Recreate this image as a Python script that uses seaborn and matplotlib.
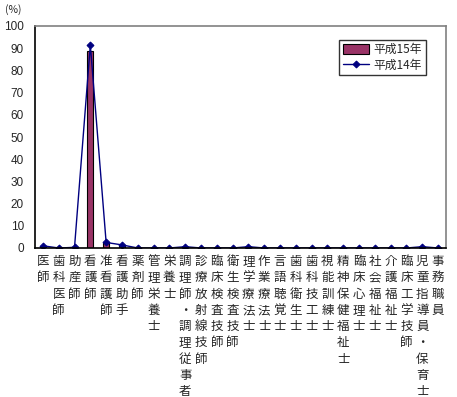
import matplotlib
matplotlib.use("Agg")
import matplotlib.pyplot as plt
import seaborn as sns
import pandas as pd
import numpy as np

categories = ["医師", "歯科医師", "助産師", "看護師", "准看護師", "看護助手", "薬剤師",
              "管理栄養士", "栄養士", "調理師・調理従事者", "診療放射線技師", "臨床検査技師",
              "衛生検査技師", "理学療法士", "作業療法士", "言語聴覚士", "歯科衛生士",
              "歯科技工士", "視能訓練士", "精神保健福祉士", "臨床心理士", "社会福祉士",
              "介護福祉士", "臨床工学技師", "児童指導員・保育士", "事務職員"]
h15 = [0.8, 0.3, 0.3, 88.7, 2.8, 1.2, 0.2, 0.0, 0.0, 0.4, 0.1, 0.0, 0.0, 0.4, 0.0,
       0.0, 0.0, 0.0, 0.0, 0.0, 0.0, 0.0, 0.0, 0.0, 0.4, 0.0]
h14 = [1.0, 0.0, 0.3, 91.5, 2.5, 1.4, 0.0, 0.0, 0.0, 0.6, 0.0, 0.0, 0.0, 0.6, 0.0,
       0.0, 0.0, 0.0, 0.0, 0.0, 0.0, 0.0, 0.0, 0.0, 0.6, 0.0]
yticks = list(range(0, 101, 10))

sns.set_style("white")
plt.rcParams['font.family'] = ['Noto Sans CJK JP', 'DejaVu Sans']

df = pd.DataFrame({"cat": categories, "h15": h15, "h14": h14, "pos": np.arange(len(categories))})

fig = plt.figure(figsize=(4.57, 3.97), dpi=100)
W, H = 457, 397
left, right, top, bottom = 35, 446, 26, 248
ax = fig.add_axes([left / W, 1 - bottom / H, (right - left) / W, (bottom - top) / H])

sns.barplot(data=df, x="cat", y="h15", order=categories, color="#993366",
            edgecolor="black", linewidth=0.8, width=0.4, saturation=1, ax=ax,
            label="平成15年")
sns.lineplot(data=df, x="pos", y="h14", color="#000080", marker="D", markersize=3.5,
             markeredgecolor="#000080", linewidth=1.0, ax=ax, label="平成14年")

ax.set_xlim(-0.5, len(categories) - 0.5)
ax.set_ylim(0, 100)
ax.set_yticks(yticks)
ax.set_yticklabels([str(v) for v in yticks], fontsize=8.5, family=['Liberation Sans', 'DejaVu Sans'])
ax.set_xticks(np.arange(len(categories)))
ax.set_xticklabels(["\n".join(c) for c in categories], fontsize=9, linespacing=1.33, va="top")
ax.set_xticks(np.arange(len(categories)) - 0.5, minor=True)
ax.tick_params(axis="x", which="major", length=0, pad=5)
ax.tick_params(axis="x", which="minor", direction="in", length=4, width=1, color="black")
ax.tick_params(axis="y", direction="in", length=4, width=1, color="black", pad=8)
ax.set_xlabel("")
ax.set_ylabel("")
for s in ["left", "bottom"]:
    ax.spines[s].set_color("black")
    ax.spines[s].set_linewidth(1.2)
for s in ["top", "right"]:
    ax.spines[s].set_color("#808080")
    ax.spines[s].set_linewidth(1.2)

handles, labels = ax.get_legend_handles_labels()
order = [labels.index("平成15年"), labels.index("平成14年")]
leg = ax.legend([handles[i] for i in order], [labels[i] for i in order],
                loc="upper right", bbox_to_anchor=(0.965, 0.965), fontsize=8.5, frameon=True,
                fancybox=False, edgecolor="black", borderpad=0.3, handlelength=2.2,
                handleheight=0.9, labelspacing=0.2, handletextpad=0.4)
leg.get_frame().set_linewidth(1.0)

fig.text(5 / W, 1 - 10 / H, "(%)", fontsize=7.5, va="center", ha="left")

fig.savefig("out.png", dpi=100, facecolor="white")
